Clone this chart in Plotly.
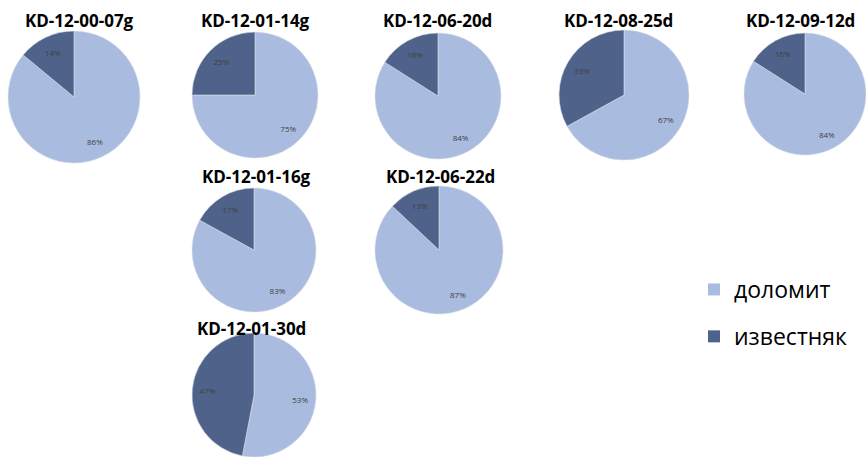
import plotly.graph_objects as go

# Sample names and mineral shares (%)
samples = ["KD-12-00-07g", "KD-12-01-14g", "KD-12-06-20d", "KD-12-08-25d",
           "KD-12-09-12d", "KD-12-01-16g", "KD-12-06-22d", "KD-12-01-30d"]
dolomite = [86, 75, 84, 67, 84, 83, 87, 53]
limestone = [14, 25, 16, 33, 16, 17, 13, 47]
labels = ["доломит", "известняк"]
colors = ["#A9BCDF", "#4F6289"]

W, H = 866, 457
# pie centres (px) and radius for each sample
layout_px = [
    (74, 97, 66), (255, 95, 63), (438, 96, 63), (624, 95, 65),
    (806, 94, 62), (254, 250, 62), (439, 250, 64), (254, 396, 63),
]
# title centres (px)
title_xy = [
    (79, 21), (255, 21), (437, 21), (618, 21),
    (800, 21), (256, 177), (440, 177), (251, 328),
]

fig = go.Figure()
annotations = []
for i, name in enumerate(samples):
    cx, cy, r = layout_px[i]
    x0 = max(0, (cx - r) / W)
    x1 = min(1, (cx + r) / W)
    y0 = max(0, 1 - (cy + r) / H)
    y1 = min(1, 1 - (cy - r) / H)
    dom = dict(x=[x0, x1], y=[y0, y1])
    vals = [dolomite[i], limestone[i]]
    # filled pie
    fig.add_trace(go.Pie(
        labels=labels, values=vals,
        marker=dict(colors=colors, line=dict(color="#D9DEE8", width=0.6)),
        sort=False, direction="clockwise", rotation=0,
        textinfo="none", domain=dom,
        showlegend=False, hoverinfo="label+percent",
    ))
    # transparent ring carrying the percentage labels near the rim
    fig.add_trace(go.Pie(
        labels=labels, values=vals, hole=0.5,
        marker=dict(colors=["rgba(0,0,0,0)"] * 2, line=dict(width=0)),
        sort=False, direction="clockwise", rotation=0,
        texttemplate="%{percent:.0%}", textposition="inside",
        insidetextorientation="horizontal",
        textfont=dict(family="Open Sans", size=8, color="#404040"),
        domain=dom, showlegend=False, hoverinfo="skip",
    ))
    tx, ty = title_xy[i]
    annotations.append(dict(
        text="<b>" + name + "</b>", x=tx / W, y=1 - ty / H,
        xref="paper", yref="paper", showarrow=False,
        xanchor="center", yanchor="middle",
        font=dict(family="Open Sans", size=17, color="#000000"),
    ))

# legend entries (one per mineral, separate groups for spacing)
for lab, col in zip(labels, colors):
    fig.add_trace(go.Scatter(
        x=[None], y=[None], mode="markers", name=lab, legendgroup=lab,
        marker=dict(symbol="square", size=13, color=col),
        showlegend=True, hoverinfo="skip",
    ))

fig.update_layout(
    width=W, height=H,
    margin=dict(l=0, r=0, t=0, b=0),
    paper_bgcolor="white",
    plot_bgcolor="rgba(0,0,0,0)",
    xaxis=dict(visible=False),
    yaxis=dict(visible=False),
    annotations=annotations,
    legend=dict(
        x=694 / W, y=1 - 268 / H, xanchor="left", yanchor="top",
        font=dict(family="Open Sans", size=23, color="#000000"),
        tracegroupgap=14, itemsizing="constant",
        bgcolor="rgba(0,0,0,0)",
    ),
)

fig.write_html("out.html")
